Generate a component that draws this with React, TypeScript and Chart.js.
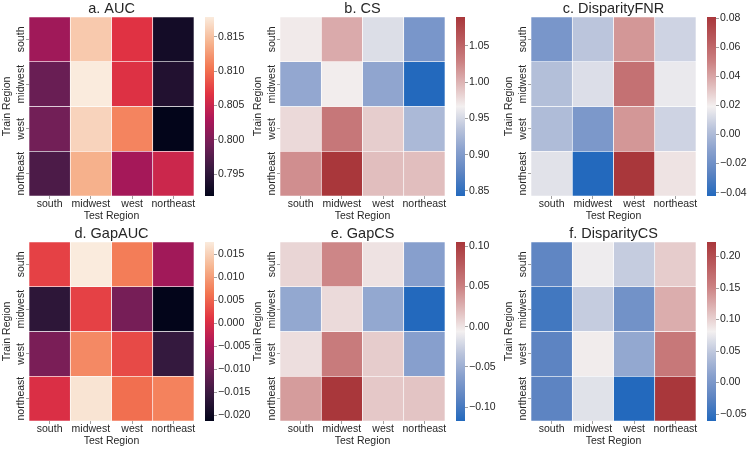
import React, { useEffect, useRef } from 'react';
import { Chart, registerables } from 'chart.js';

Chart.register(...registerables);

// ---------------- data ----------------
const rowLabels = ['south', 'midwest', 'west', 'northeast'];
const colLabels = ['south', 'midwest', 'west', 'northeast'];

const aucValues = [
  [0.8022, 0.8156, 0.8066, 0.7931],
  [0.7988, 0.8179, 0.8064, 0.7941],
  [0.7994, 0.8163, 0.8113, 0.7918],
  [0.797, 0.814, 0.8025, 0.8051],
];
const csValues = [
  [0.97, 1.005, 0.954, 0.895],
  [0.912, 0.968, 0.91, 0.843],
  [0.979, 1.036, 0.986, 0.927],
  [1.021, 1.09, 0.994, 0.994],
];
const disparityFnrValues = [
  [-0.0164, 0.0045, 0.044, 0.0094],
  [0.002, 0.0131, 0.0563, 0.0168],
  [0.0008, -0.0152, 0.044, 0.0094],
  [0.0144, -0.0423, 0.0809, 0.023],
];
const gapAucValues = [
  [0.0021, 0.0177, 0.0072, -0.0057],
  [-0.0166, 0.0021, -0.0096, -0.0213],
  [-0.0092, 0.0083, 0.0029, -0.0158],
  [0.0002, 0.017, 0.006, 0.0076],
];
const gapCsValues = [
  [0.0073, 0.047, 0.0007, -0.0615],
  [-0.0548, 0.0051, -0.0548, -0.117],
  [0.003, 0.054, 0.0118, -0.0615],
  [0.036, 0.105, 0.014, 0.016],
];
const disparityCsValues = [
  [-0.0212, 0.078, 0.0526, 0.1037],
  [-0.0411, 0.0526, -0.007, 0.1236],
  [-0.024, 0.0838, 0.0185, 0.1605],
  [-0.024, 0.0696, -0.061, 0.223],
];

const aucTicks = [0.795, 0.8, 0.805, 0.81, 0.815];
const csTicks = [0.85, 0.9, 0.95, 1.0, 1.05];
const disparityFnrTicks = [-0.04, -0.02, 0, 0.02, 0.04, 0.06, 0.08];
const gapAucTicks = [-0.02, -0.015, -0.01, -0.005, 0, 0.005, 0.01, 0.015];
const gapCsTicks = [-0.1, -0.05, 0, 0.05, 0.1];
const disparityCsTicks = [-0.05, 0, 0.05, 0.1, 0.15, 0.2];

const titles = ['a. AUC', 'b. CS', 'c. DisparityFNR', 'd. GapAUC', 'e. GapCS', 'f. DisparityCS'];
const xTitle = 'Test Region';
const yTitle = 'Train Region';

// ---------------- styles ----------------
const FONT = "'Liberation Sans', Arial, Helvetica, sans-serif";
const TEXT = '#262626';
const TICK = '#a0a0a0';
Chart.defaults.font.family = FONT;

type Stop = [number, number, number, number];
const ROCKET: Stop[] = [
  [0, 3, 5, 26],
  [0.143, 53, 25, 62],
  [0.286, 112, 31, 87],
  [0.429, 173, 23, 89],
  [0.571, 225, 51, 66],
  [0.714, 243, 118, 81],
  [0.857, 246, 180, 143],
  [1, 250, 235, 221],
];
const VLAG: Stop[] = [
  [0, 35, 105, 189],
  [0.125, 91, 131, 194],
  [0.25, 135, 159, 205],
  [0.375, 185, 195, 219],
  [0.5, 243, 240, 240],
  [0.625, 223, 184, 184],
  [0.75, 203, 129, 130],
  [0.875, 185, 90, 93],
  [1, 169, 55, 59],
];

function colorAt(stops: Stop[], t: number): string {
  const x = Math.max(0, Math.min(1, t));
  for (let i = 1; i < stops.length; i++) {
    const a = stops[i - 1];
    const b = stops[i];
    if (x <= b[0]) {
      const f = (x - a[0]) / (b[0] - a[0]);
      const r = Math.round(a[1] + (b[1] - a[1]) * f);
      const g = Math.round(a[2] + (b[2] - a[2]) * f);
      const bl = Math.round(a[3] + (b[3] - a[3]) * f);
      return `rgb(${r},${g},${bl})`;
    }
  }
  const l = stops[stops.length - 1];
  return `rgb(${l[1]},${l[2]},${l[3]})`;
}

const panels = [
  { title: titles[0], values: aucValues, cmap: ROCKET, ticks: aucTicks, decimals: 3 },
  { title: titles[1], values: csValues, cmap: VLAG, ticks: csTicks, decimals: 2 },
  { title: titles[2], values: disparityFnrValues, cmap: VLAG, ticks: disparityFnrTicks, decimals: 2 },
  { title: titles[3], values: gapAucValues, cmap: ROCKET, ticks: gapAucTicks, decimals: 3 },
  { title: titles[4], values: gapCsValues, cmap: VLAG, ticks: gapCsTicks, decimals: 2 },
  { title: titles[5], values: disparityCsValues, cmap: VLAG, ticks: disparityCsTicks, decimals: 2 },
];

const yLabelPlugin = {
  id: 'rotatedRowLabels',
  afterDraw(chart: any) {
    const { ctx, chartArea, scales } = chart;
    const y = scales.y;
    ctx.save();
    ctx.fillStyle = TEXT;
    ctx.font = `10.5px ${FONT}`;
    ctx.textAlign = 'center';
    ctx.textBaseline = 'alphabetic';
    rowLabels.forEach((lab, i) => {
      const py = y.getPixelForValue(i + 0.5);
      ctx.save();
      ctx.translate(chartArea.left - 5, py);
      ctx.rotate(-Math.PI / 2);
      ctx.fillText(lab, 0, 0);
      ctx.restore();
    });
    ctx.restore();
  },
};

function extent(values: number[][]) {
  const flat = values.flat();
  return [Math.min(...flat), Math.max(...flat)];
}

function Heatmap({ p, left, top }: any) {
  const ref = useRef<HTMLCanvasElement>(null);
  useEffect(() => {
    const [vmin, vmax] = extent(p.values);
    const chart = new Chart(ref.current as HTMLCanvasElement, {
      type: 'bar',
      data: {
        labels: colLabels,
        datasets: rowLabels.map((r, ri) => ({
          label: r,
          data: colLabels.map(() => [ri, ri + 1]),
          backgroundColor: p.values[ri].map((v: number) => colorAt(p.cmap, (v - vmin) / (vmax - vmin))),
          borderColor: '#ffffff',
          borderWidth: 0.3,
          borderSkipped: false,
          barPercentage: 1,
          categoryPercentage: 1,
          grouped: false,
          inflateAmount: 0,
        })) as any,
      },
      options: {
        responsive: false,
        animation: false,
        events: [],
        layout: { padding: { left: 0, right: 6, top: 0, bottom: 0 } },
        plugins: {
          legend: { display: false },
          tooltip: { enabled: false },
          title: {
            display: true,
            text: p.title,
            color: TEXT,
            fullSize: false,
            font: { size: 14.5, weight: 'normal', lineHeight: '16px' },
            padding: { top: 1, bottom: 0 },
          },
        },
        scales: {
          x: {
            type: 'category',
            offset: true,
            grid: { display: true, drawOnChartArea: false, drawTicks: true, tickLength: 3, offset: false, tickColor: TICK, tickWidth: 1 },
            border: { display: false },
            ticks: { color: TEXT, font: { size: 10.5, lineHeight: 1 }, padding: 0, maxRotation: 0, minRotation: 0, autoSkip: false },
            title: { display: true, text: xTitle, color: TEXT, font: { size: 10.5, lineHeight: 1.2 }, padding: { top: 0, bottom: 3 } },
            afterFit: (s: any) => { s.height = 29; },
          },
          y: {
            type: 'linear',
            min: 0,
            max: 4,
            reverse: true,
            afterBuildTicks: (s: any) => { s.ticks = rowLabels.map((_, i) => ({ value: i + 0.5 })); },
            grid: { display: true, drawOnChartArea: false, drawTicks: true, tickLength: 3, tickColor: TICK, tickWidth: 1 },
            border: { display: false },
            ticks: { display: false },
            title: { display: true, text: yTitle, color: TEXT, font: { size: 10.5, lineHeight: 1.2 }, padding: { top: 1, bottom: 0 } },
            afterFit: (s: any) => { s.width = 29; },
          },
        },
      } as any,
      plugins: [yLabelPlugin],
    });
    return () => chart.destroy();
  }, []);
  return (
    <canvas ref={ref} width={200} height={225} style={{ position: 'absolute', left, top, width: 200, height: 225 }} />
  );
}

function fmt(v: number, d: number) {
  const s = Math.abs(v) < 1e-12 ? (0).toFixed(d) : v.toFixed(d);
  return s.replace('-', '\u2212');
}

function Colorbar({ p, left, top }: any) {
  const ref = useRef<HTMLCanvasElement>(null);
  useEffect(() => {
    const [vmin, vmax] = extent(p.values);
    const chart = new Chart(ref.current as HTMLCanvasElement, {
      type: 'bar',
      data: {
        labels: [''],
        datasets: [
          {
            data: [[vmin, vmax]],
            backgroundColor: (c: any) => {
              const area = c.chart.chartArea;
              if (!area) return '#000';
              const g = c.chart.ctx.createLinearGradient(0, area.bottom, 0, area.top);
              for (let i = 0; i <= 64; i++) g.addColorStop(i / 64, colorAt(p.cmap, i / 64));
              return g;
            },
            borderWidth: 0,
            barPercentage: 1,
            categoryPercentage: 1,
            inflateAmount: 0,
          },
        ] as any,
      },
      options: {
        responsive: false,
        animation: false,
        events: [],
        layout: { padding: { left: 0, right: 0, top: 17, bottom: 29 } },
        plugins: { legend: { display: false }, tooltip: { enabled: false } },
        scales: {
          x: { display: false },
          y: {
            position: 'right',
            min: vmin,
            max: vmax,
            afterBuildTicks: (s: any) => { s.ticks = p.ticks.map((v: number) => ({ value: v })); },
            ticks: { color: TEXT, font: { size: 10.5 }, padding: 1, callback: (v: any) => fmt(Number(v), p.decimals) },
            grid: { display: true, drawOnChartArea: false, drawTicks: true, tickLength: 3, tickColor: TICK, tickWidth: 1 },
            border: { display: false },
            afterFit: (s: any) => { s.width = 36; },
          },
        },
      } as any,
    });
    return () => chart.destroy();
  }, []);
  return (
    <canvas ref={ref} width={45} height={225} style={{ position: 'absolute', left, top, width: 45, height: 225 }} />
  );
}

export default function App() {
  return (
    <div style={{ position: 'absolute', left: 0, top: 0, width: 750, height: 450, background: '#ffffff', overflow: 'hidden' }}>
      {panels.map((p, i) => {
        const col = i % 3;
        const row = Math.floor(i / 3);
        return (
          <React.Fragment key={i}>
            <Heatmap p={p} left={251 * col} top={225 * row} />
            <Colorbar p={p} left={251 * col + 205} top={225 * row} />
          </React.Fragment>
        );
      })}
    </div>
  );
}
